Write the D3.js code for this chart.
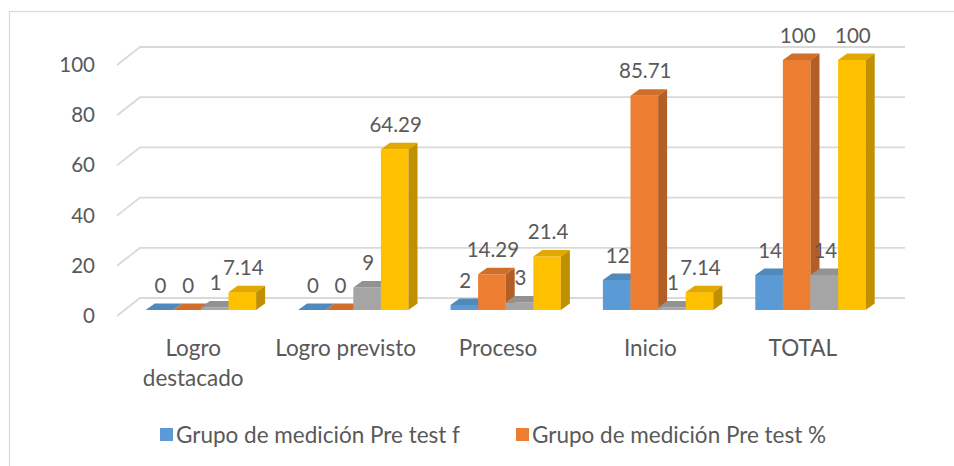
<!DOCTYPE html>
<html><head><meta charset="utf-8">
<script src="https://cdn.jsdelivr.net/npm/d3@7"></script>
<style>body{margin:0;background:#fff} svg{display:block}</style>
</head><body><svg id="chart" width="954" height="466"></svg>
<script>
// ---------- data ----------
const categories = ["Logro destacado", "Logro previsto", "Proceso", "Inicio", "TOTAL"];
const seriesNames = ["Grupo de medición Pre test f", "Grupo de medición Pre test %",
                     "Grupo de medición Post test f", "Grupo de medición Post test %"];
const preF    = [0, 0, 2, 12, 14];
const prePct  = [0, 0, 14.29, 85.71, 100];
const postF   = [1, 9, 3, 1, 14];
const postPct = [7.14, 64.29, 21.4, 7.14, 100];
const yTicks  = [0, 20, 40, 60, 80, 100];
const legendShown = [0, 1];

// ---------- styles ----------
const FONT = "Lato, 'Liberation Sans', sans-serif";
const FS_NUM = 20.5;
const FS_TXT = 22.5;
const TXT = "#595959";
const colors = ["#5B9BD5", "#ED7D31", "#A5A5A5", "#FFC000"];
const series = [preF, prePct, postF, postPct];

const svg = d3.select("#chart");
svg.append("rect").attr("x", 9.5).attr("y", 11.5).attr("width", 1000).attr("height", 500)
  .attr("fill", "#fff").attr("stroke", "#D9D9D9").attr("stroke-width", 1.2);

// 3D geometry
const WALL_DX = 23;
const BAR_DX = 9, BAR_DY = 6.5;
const FRONT_SHIFT_X = 7.7;

const x = d3.scaleBand().domain(categories).range([117, 879]);
const groupW = 110.4;
const inner = d3.scaleBand().domain(d3.range(series.length)).range([0, groupW]);
const yFront = d3.scaleLinear().domain([0, 100]).range([316, 65]);
const yBack  = d3.scaleLinear().domain([0, 100]).range([298, 47]);
const yBar   = d3.scaleLinear().domain([0, 100]).range([310, 60]);
const backRight = 905;

// gridlines (side wall + back wall)
const grid = svg.append("g");
yTicks.forEach(v => {
  grid.append("path")
    .attr("d", `M${x.range()[0]},${yFront(v)}L${x.range()[0] + WALL_DX},${yBack(v)}L${backRight},${yBack(v)}`)
    .attr("fill", "none").attr("stroke", "#D9D9D9").attr("stroke-width", 1.8);
});

// y axis labels
const yAxis = d3.axisLeft(yFront).tickValues(yTicks).tickSize(0).tickPadding(22);
const ya = svg.append("g").attr("transform", `translate(${x.range()[0]},0)`).call(yAxis);
ya.select(".domain").remove();
ya.selectAll("text").attr("font-family", FONT).attr("font-size", FS_NUM).attr("fill", TXT);

// bars
function shade(c, k) { return d3.rgb(c).darker(k).formatHex(); }
const bars = svg.append("g");
const labels = [];
categories.forEach((cat, ci) => {
  const gx = x(cat) + (x.bandwidth() - groupW) / 2 + FRONT_SHIFT_X;
  series.forEach((s, si) => {
    const v = s[ci];
    const x0 = gx + inner(si), x1 = x0 + inner.bandwidth();
    const yt = yBar(v), yb = yBar(0);
    const g = bars.append("g");
    g.append("path").attr("d", `M${x0},${yb}L${x1},${yb}L${x1},${yt}L${x0},${yt}Z`)
      .attr("fill", colors[si]);
    g.append("path").attr("d", `M${x0},${yt}L${x1},${yt}L${x1 + BAR_DX},${yt - BAR_DY}L${x0 + BAR_DX},${yt - BAR_DY}Z`)
      .attr("fill", shade(colors[si], 0.35));
    g.append("path").attr("d", `M${x1},${yb}L${x1 + BAR_DX},${yb - BAR_DY}L${x1 + BAR_DX},${yt - BAR_DY}L${x1},${yt}Z`)
      .attr("fill", shade(colors[si], 0.8));
    labels.push({x: (x0 + x1) / 2 + 1, y: yt - 24.5, t: String(v)});
  });
});

// data labels
svg.append("g").selectAll("text").data(labels).join("text")
  .attr("x", d => d.x).attr("y", d => d.y).attr("dy", "0.35em")
  .attr("text-anchor", "middle").attr("font-family", FONT).attr("font-size", FS_NUM).attr("fill", TXT)
  .text(d => d.t);

// category labels (wrapped when wider than the band)
const cg = svg.append("g");
categories.forEach(cat => {
  const t = cg.append("text").attr("x", x(cat) + x.bandwidth() / 2).attr("y", 348).attr("dy", "0.35em")
    .attr("text-anchor", "middle").attr("font-family", FONT).attr("font-size", FS_TXT).attr("fill", TXT).text(cat);
  if (t.node().getComputedTextLength() > x.bandwidth() - 4) {
    const words = cat.split(" ");
    t.text(null);
    words.forEach((w, i) => t.append("tspan").attr("x", x(cat) + x.bandwidth() / 2)
      .attr("y", 348 + i * 30).attr("dy", "0.35em").text(w));
  }
});

// legend
const lg = svg.append("g");
let lx = 160;
legendShown.forEach(si => {
  lg.append("rect").attr("x", lx).attr("y", 428).attr("width", 13).attr("height", 13).attr("fill", colors[si]);
  const t = lg.append("text").attr("x", lx + 16).attr("y", 435).attr("dy", "0.35em")
    .attr("font-family", FONT).attr("font-size", FS_TXT).attr("fill", TXT).text(seriesNames[si]);
  lx += 16 + t.node().getComputedTextLength() + 56;
});
</script></body></html>
